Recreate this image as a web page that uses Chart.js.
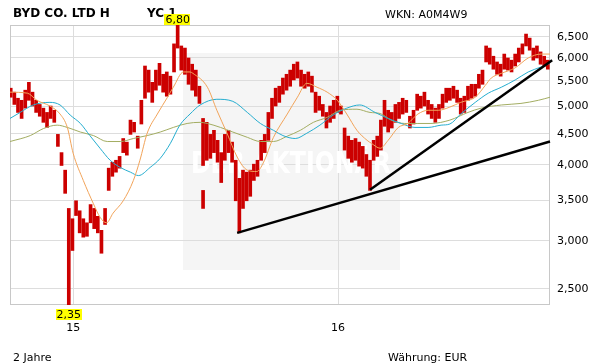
<!DOCTYPE html>
<html>
<head>
<meta charset="utf-8">
<script src="https://cdn.jsdelivr.net/npm/chart.js@4"></script>
<style>
  html, body { margin: 0; padding: 0; background: #fff; }
  canvas { display: block; }
</style>
</head>
<body>
<canvas id="chart" width="611" height="364"></canvas>
<script>
// days counted from 1 Jan 2015, one bar every 5 days
const startDay = -86
const stepDays = 5

const highs = [
  5.35, 5.27, 5.15, 5.11, 5.31, 5.47, 5.27, 5.11, 5.03, 4.96,
  4.88, 5.00, 4.92, 4.49, 4.19, 3.92, 3.39, 3.26, 3.49, 3.36,
  3.26, 3.21, 3.44, 3.39, 3.29, 3.12, 3.39, 3.95, 4.04, 4.07,
  4.13, 4.42, 4.36, 4.74, 4.70, 4.46, 5.11, 5.82, 5.73, 5.47,
  5.73, 5.88, 5.64, 5.69, 5.60, 6.33, 6.80, 6.28, 6.23, 6.00,
  5.86, 5.73, 5.39, 4.77, 4.70, 4.49, 4.56, 4.39, 4.19, 4.49,
  4.56, 4.36, 4.07, 3.80, 3.92, 3.89, 3.92, 4.01, 4.07, 4.39,
  4.49, 4.88, 5.15, 5.35, 5.39, 5.56, 5.64, 5.73, 5.86, 5.91,
  5.73, 5.64, 5.69, 5.60, 5.27, 5.19, 5.03, 4.88, 5.00, 5.11,
  5.19, 5.00, 4.60, 4.46, 4.39, 4.42, 4.36, 4.29, 4.16, 4.07,
  4.39, 4.46, 4.74, 5.11, 4.92, 4.88, 5.03, 5.07, 5.15, 5.11,
  4.81, 4.92, 5.23, 5.19, 5.27, 5.11, 5.03, 4.96, 5.03, 5.23,
  5.35, 5.35, 5.39, 5.31, 5.15, 5.19, 5.39, 5.43, 5.43, 5.64,
  5.73, 6.28, 6.23, 6.04, 5.91, 5.86, 6.09, 6.00, 5.95, 6.09,
  6.23, 6.33, 6.57, 6.47, 6.23, 6.28, 6.14, 6.04, 5.95
]
const lows = [
  5.17, 5.03, 4.88, 4.77, 4.96, 5.11, 5.00, 4.88, 4.81, 4.70,
  4.61, 4.77, 4.70, 4.29, 3.99, 3.59, 2.35, 2.89, 3.30, 3.09,
  3.04, 3.05, 3.21, 3.14, 3.09, 2.86, 3.19, 3.63, 3.83, 3.89,
  3.95, 4.19, 4.15, 4.49, 4.53, 4.26, 4.67, 5.15, 5.27, 5.07,
  5.31, 5.41, 5.27, 5.19, 5.23, 5.69, 6.23, 5.73, 5.64, 5.43,
  5.31, 5.19, 5.05, 3.99, 4.07, 4.10, 4.19, 4.04, 3.74, 4.07,
  4.19, 4.04, 3.49, 3.09, 3.39, 3.49, 3.55, 3.77, 3.83, 4.07,
  4.19, 4.39, 4.77, 5.00, 5.07, 5.23, 5.31, 5.39, 5.52, 5.56,
  5.39, 5.35, 5.39, 5.27, 4.88, 4.92, 4.81, 4.60, 4.70, 4.77,
  4.88, 4.85, 4.23, 4.10, 4.04, 4.07, 3.98, 3.95, 3.83, 3.63,
  4.07, 4.13, 4.23, 4.63, 4.53, 4.60, 4.70, 4.77, 4.85, 4.88,
  4.60, 4.67, 4.92, 4.96, 5.00, 4.85, 4.77, 4.70, 4.77, 4.96,
  5.07, 5.11, 5.15, 5.07, 4.85, 4.88, 5.11, 5.15, 5.19, 5.35,
  5.43, 5.91, 5.86, 5.75, 5.64, 5.60, 5.75, 5.73, 5.69, 5.82,
  5.91, 6.09, 6.28, 6.18, 5.95, 6.00, 5.86, 5.82, 5.75
]
// single isolated low tick in Aug 2015
const spikeDay = 179
const spikeRange = [3.39, 3.63]

const ma38Days = [-87, -63, -50, -32, -18, -8, 0, 14, 28, 37, 46, 55, 69, 83, 92, 102, 116, 130, 138, 152, 161, 165, 185, 198, 212, 226, 240, 253, 262, 276, 295, 309, 322, 336, 350, 364, 377, 391, 405, 411, 423, 434, 448, 461, 475, 489, 503, 519, 534, 554, 568, 576, 590, 609, 627, 645, 657]
const ma38Values = [5.27, 5.25, 5.11, 5.00, 4.85, 4.61, 4.18, 3.77, 3.45, 3.28, 3.21, 3.33, 3.49, 3.77, 4.07, 4.51, 4.85, 5.17, 5.37, 5.69, 5.69, 5.66, 5.37, 4.92, 4.51, 4.12, 3.92, 3.90, 4.03, 4.44, 4.85, 5.17, 5.45, 5.37, 5.27, 5.11, 4.85, 4.56, 4.39, 4.34, 4.26, 4.39, 4.61, 4.68, 4.85, 4.92, 4.92, 4.98, 5.07, 5.17, 5.41, 5.56, 5.66, 5.78, 6.00, 6.09, 6.09]

const ma100Days = [-87, -73, -55, -32, -18, -4, 10, 23, 37, 51, 65, 79, 90, 106, 120, 134, 147, 161, 175, 198, 220, 240, 258, 276, 289, 306, 322, 340, 358, 377, 395, 416, 434, 452, 471, 489, 507, 519, 534, 554, 572, 590, 609, 627, 645, 657]
const ma100Values = [4.77, 4.88, 5.02, 5.07, 5.02, 4.83, 4.68, 4.47, 4.26, 4.07, 3.96, 3.89, 3.84, 3.96, 4.10, 4.34, 4.65, 4.85, 5.02, 5.13, 5.09, 4.88, 4.68, 4.56, 4.47, 4.42, 4.51, 4.65, 4.83, 4.96, 5.02, 4.88, 4.77, 4.68, 4.61, 4.61, 4.65, 4.67, 4.85, 5.07, 5.25, 5.37, 5.52, 5.69, 5.80, 5.88]

const ma200Days = [-87, -59, -41, -22, -8, 10, 28, 47, 65, 83, 102, 120, 138, 157, 175, 185, 203, 220, 240, 258, 276, 295, 313, 331, 350, 368, 391, 409, 423, 438, 457, 475, 493, 519, 544, 562, 590, 617, 641, 657]
const ma200Values = [4.37, 4.47, 4.59, 4.65, 4.61, 4.53, 4.47, 4.37, 4.37, 4.42, 4.47, 4.53, 4.61, 4.68, 4.70, 4.68, 4.61, 4.53, 4.44, 4.37, 4.37, 4.46, 4.56, 4.70, 4.79, 4.92, 4.94, 4.88, 4.86, 4.74, 4.68, 4.68, 4.68, 4.74, 4.88, 4.96, 5.02, 5.05, 5.11, 5.17]

const trendADays = [226, 657]
const trendAValues = [3.09, 4.37]
const trendBDays = [409, 660]
const trendBValues = [3.64, 5.95]

const yearStarts = [0, 365]
const yearLabels = ['15', '16']
const yTicks = [2.5, 3.0, 3.5, 4.0, 4.5, 5.0, 5.5, 6.0, 6.5]

const FONT = '"DejaVu Sans", Verdana, sans-serif'
Chart.defaults.font.family = FONT
Chart.defaults.font.size = 11
Chart.defaults.color = '#000'

const priceBars = highs.map((h, i) => ({ x: startDay + i * stepDays, y: [lows[i], h] }))
priceBars.push({ x: spikeDay, y: spikeRange })

const toPoints = (days, vals) => days.map((d, i) => ({ x: d, y: vals[i] }))
const maLine = (days, vals, color) => ({
  type: 'line',
  data: toPoints(days, vals),
  borderColor: color,
  borderWidth: 1,
  pointRadius: 0,
  cubicInterpolationMode: 'monotone',
  order: 2
})
const trendLine = (days, vals) => ({
  type: 'line',
  data: toPoints(days, vals),
  borderColor: '#000',
  borderWidth: 2.5,
  pointRadius: 0,
  order: 1,
  clip: { left: 0, top: 0, right: 3, bottom: 0 }
})

const fmt = v => v.toFixed(2).replace('.', ',')

const decor = {
  id: 'decor',
  beforeDraw (chart) {
    const ctx = chart.ctx
    ctx.save()
    ctx.fillStyle = '#fff'
    ctx.fillRect(0, 0, chart.width, chart.height)
    // watermark panel
    ctx.fillStyle = '#f5f5f5'
    ctx.fillRect(183, 53, 217, 217)
    ctx.restore()
  },
  beforeDatasetsDraw (chart) {
    const ctx = chart.ctx
    const a = chart.chartArea
    ctx.save()
    ctx.fillStyle = '#ffffff'
    ctx.font = 'bold 30px ' + FONT
    ctx.textAlign = 'center'
    ctx.fillText('DER AKTIONÄR', 291, 173, 200)
    ctx.strokeStyle = '#c8c8c8'
    ctx.lineWidth = 1
    ctx.strokeRect(a.left + 0.5, a.top + 0.5, a.right - a.left - 1, a.bottom - a.top - 1)
    ctx.restore()
  },
  afterDraw (chart) {
    const ctx = chart.ctx
    const a = chart.chartArea
    const xs = chart.scales.x
    ctx.save()
    ctx.fillStyle = '#000'
    ctx.textAlign = 'left'
    ctx.textBaseline = 'alphabetic'
    ctx.font = 'bold 12px ' + FONT
    ctx.fillText('BYD CO. LTD H', 13, 17)
    ctx.fillText('YC 1', 147, 17)
    ctx.font = '11px ' + FONT
    ctx.fillText('WKN: A0M4W9', 385, 18)
    ctx.fillText('2 Jahre', 13, 361)
    ctx.fillText('Währung: EUR', 388, 361)

    // max / min markers
    const maxI = highs.indexOf(Math.max(...highs))
    const minI = lows.indexOf(Math.min(...lows))
    const mark = (val, day, top) => {
      const t = fmt(val)
      const w = ctx.measureText(t).width + 2
      const cx = xs.getPixelForValue(day)
      ctx.fillStyle = '#ffff00'
      ctx.fillRect(Math.round(cx - w / 2), top, Math.round(w), 11)
      ctx.fillStyle = '#000'
      ctx.textAlign = 'center'
      ctx.fillText(t, cx, top + 9)
    }
    mark(highs[maxI], startDay + maxI * stepDays, a.top - 11)
    mark(lows[minI], startDay + minI * stepDays, a.bottom + 4)
    ctx.restore()
  }
}

new Chart(document.getElementById('chart'), {
  type: 'bar',
  data: {
    datasets: [
      trendLine(trendADays, trendAValues),
      trendLine(trendBDays, trendBValues),
      maLine(ma38Days, ma38Values, '#f2a45a'),
      maLine(ma100Days, ma100Values, '#26aed0'),
      maLine(ma200Days, ma200Values, '#a3ad62'),
      {
        type: 'bar',
        data: priceBars,
        backgroundColor: '#cc0000',
        barThickness: 3,
        order: 4
      }
    ]
  },
  options: {
    responsive: false,
    animation: false,
    layout: { padding: { left: 10, top: 25, right: 0, bottom: 0 } },
    plugins: {
      legend: { display: false },
      tooltip: { enabled: false }
    },
    scales: {
      x: {
        type: 'linear',
        min: -87,
        max: 657,
        offset: false,
        afterBuildTicks: s => { s.ticks = yearStarts.map(v => ({ value: v })) },
        afterFit: s => { s.height = 59 },
        ticks: {
          callback: v => yearLabels[yearStarts.indexOf(v)],
          padding: 17,
          maxRotation: 0,
          autoSkip: false,
          color: '#000'
        },
        grid: { color: '#dddddd', drawTicks: false, offset: false },
        border: { display: false }
      },
      y: {
        type: 'logarithmic',
        position: 'right',
        min: 2.35,
        max: 6.8,
        afterBuildTicks: s => { s.ticks = yTicks.map(v => ({ value: v })) },
        afterFit: s => { s.width = 61 },
        ticks: {
          callback: v => v.toFixed(3).replace('.', ','),
          padding: 7,
          color: '#000'
        },
        grid: { color: '#dddddd', drawTicks: false },
        border: { display: false }
      }
    }
  },
  plugins: [decor]
})
</script>
</body>
</html>
